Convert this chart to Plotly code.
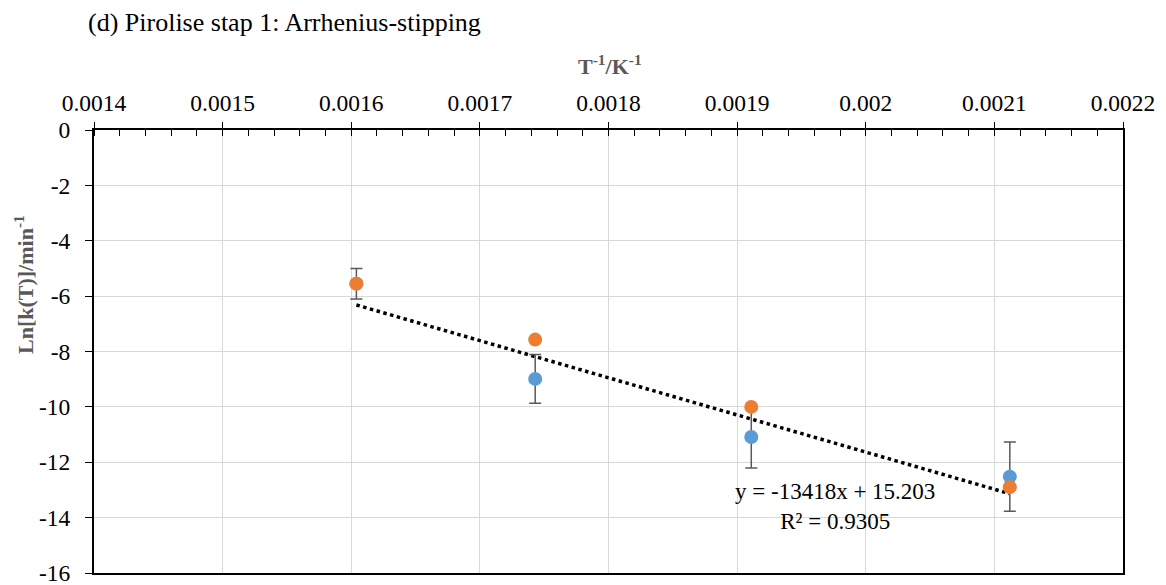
import plotly.graph_objects as go

# ---- data ----
inv_T = [0.001604, 0.001743, 0.001911, 0.002112]
ln_k_blue = [-5.55, -8.99, -11.09, -12.52]
err_blue = [0.55, 0.88, 1.12, 1.25]
ln_k_orange = [-5.55, -7.57, -10.00, -12.90]
trend_slope = -13418
trend_intercept = 15.203
trend_label = "y = -13418x + 15.203<br>R² = 0.9305"

x_tickvals = [0.0014, 0.0015, 0.0016, 0.0017, 0.0018, 0.0019, 0.0020, 0.0021, 0.0022]
x_ticktext = ["0.0014", "0.0015", "0.0016", "0.0017", "0.0018", "0.0019", "0.002", "0.0021", "0.0022"]
y_tickvals = [0, -2, -4, -6, -8, -10, -12, -14, -16]
y_ticktext = ["0", "-2", "-4", "-6", "-8", "-10", "-12", "-14", "-16"]

FONT = "Liberation Serif, Times New Roman, serif"

fig = go.Figure()

trend_x = [min(inv_T), max(inv_T)]
trend_y = [trend_slope * v + trend_intercept for v in trend_x]
fig.add_trace(go.Scatter(x=trend_x, y=trend_y, mode="lines",
                         line=dict(color="black", width=3.5, dash="dot"),
                         hoverinfo="skip"))

fig.add_trace(go.Scatter(x=inv_T, y=ln_k_blue, mode="markers",
                         marker=dict(color="#5B9BD5", size=14),
                         error_y=dict(type="data", array=err_blue, visible=True,
                                      color="#595959", thickness=1.5, width=6)))
fig.add_trace(go.Scatter(x=inv_T, y=ln_k_orange, mode="markers",
                         marker=dict(color="#ED7D31", size=14)))

# invisible trace on overlay axis for inward major ticks
fig.add_trace(go.Scatter(x=[x_tickvals[0]], y=[0], xaxis="x2", mode="markers",
                         marker=dict(opacity=0), hoverinfo="skip"))

fig.add_annotation(x=0.001976, y=-13.6, text=trend_label, showarrow=False,
                   font=dict(family=FONT, size=23, color="black"), align="center")

# axis titles
fig.add_annotation(xref="paper", yref="paper", x=0.5015, y=(573 - 65) / 443,
                   text="<b>T<sup>-1</sup>/K<sup>-1</sup></b>", showarrow=False,
                   font=dict(family=FONT, size=22, color="#595959"),
                   xanchor="center", yanchor="middle")
fig.add_annotation(xref="paper", yref="paper", x=(24 - 94) / 1029, y=(573 - 285) / 443,
                   text="<b>Ln[k(T)]/min<sup>-1</sup></b>", showarrow=False,
                   textangle=-90,
                   font=dict(family=FONT, size=22, color="#595959"),
                   xanchor="center", yanchor="middle")

fig.update_layout(
    width=1166, height=585,
    paper_bgcolor="white", plot_bgcolor="white",
    showlegend=False,
    margin=dict(l=94, r=43, t=130, b=12),
    title=dict(text="(d) Pirolise stap 1: Arrhenius-stipping",
               font=dict(family=FONT, size=26, color="black"),
               x=88/1166, xanchor="left", xref="container",
               y=1 - 22/585, yanchor="middle", yref="container"),
    xaxis=dict(side="top", range=[0.0014, 0.0022],
               tickvals=x_tickvals, ticktext=x_ticktext,
               ticks="outside", ticklen=6, tickwidth=1.3, tickcolor="black",
               minor=dict(ticks="inside", ticklen=6, tickwidth=1.3, tickcolor="black",
                          dtick=0.00002, tick0=0.0014, showgrid=False),
               showline=True, linecolor="black", linewidth=2, mirror=True,
               showgrid=True, gridcolor="#D9D9D9", gridwidth=1,
               zeroline=False, automargin=False, ticklabelstandoff=2,
               ticklabeloverflow="allow",
               tickfont=dict(family=FONT, size=23.5, color="black")),
    xaxis2=dict(overlaying="x", side="top", range=[0.0014, 0.0022],
                tickvals=x_tickvals, showticklabels=False,
                ticks="inside", ticklen=6, tickwidth=1.3, tickcolor="black",
                showgrid=False, zeroline=False, showline=False, automargin=False),
    yaxis=dict(range=[-16, 0], tickvals=y_tickvals, ticktext=y_ticktext,
               ticks="outside", ticklen=7, tickwidth=1.3, tickcolor="black",
               showline=True, linecolor="black", linewidth=2, mirror=True,
               showgrid=True, gridcolor="#D9D9D9", gridwidth=1,
               zeroline=False, automargin=False, ticklabelstandoff=10,
               ticklabeloverflow="allow",
               tickfont=dict(family=FONT, size=23.5, color="black")),
)

fig.write_html("out.html", config={"displayModeBar": False},
               post_script="document.body.style.margin='0';document.body.style.overflow='hidden';")
